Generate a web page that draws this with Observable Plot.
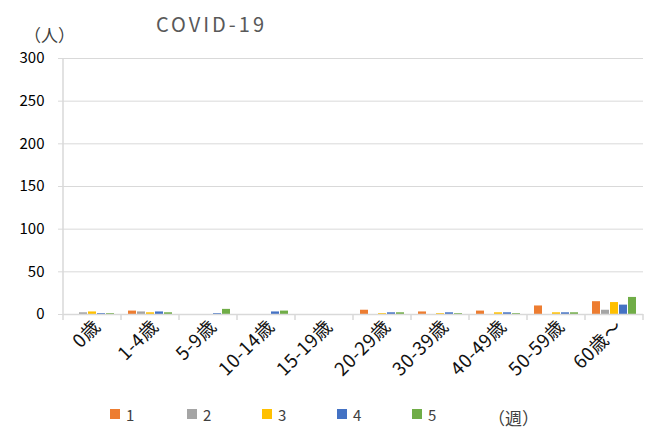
<!DOCTYPE html>
<html>
<head>
<meta charset="utf-8">
<script src="https://cdn.jsdelivr.net/npm/d3@7"></script>
<script src="https://cdn.jsdelivr.net/npm/@observablehq/plot@0.6"></script>
<style>
  html, body { margin: 0; padding: 0; background: #fff; }
  body { font-family: "Noto Sans CJK JP", "Noto Sans", sans-serif; }
  #wrap { position: relative; width: 646px; height: 432px; overflow: hidden; }
  #title { position: absolute; left: 156px; top: 11px; font-size: 20px; letter-spacing: 3px; color: #595959; font-family: "Noto Sans CJK JP", "Noto Sans", sans-serif; line-height: 26px; }
  #unit { position: absolute; left: 24px; top: 26px; font-size: 17px; line-height: 18px; color: #404040; }
  #legend { position: absolute; top: 403px; left: 0; width: 646px; height: 24px; font-size: 15px; color: #404040; }
  .li { position: absolute; top: 0; display: flex; align-items: center; height: 22px; }
  .sw { width: 10px; height: 10px; margin-right: 6px; }
  #chart svg { display: block; }
</style>
</head>
<body>
<div id="wrap">
  <div id="chart"></div>
  <div id="title"></div>
  <div id="unit"></div>
  <div id="legend"></div>
</div>
<script>
const titleText = "COVID-19";
const unitText = "（人）";
const weekUnit = "（週）";
const ages = ["0歳","1-4歳","5-9歳","10-14歳","15-19歳","20-29歳","30-39歳","40-49歳","50-59歳","60歳～"];
const weeks = ["1","2","3","4","5"];
const colors = ["#ED7D31","#A5A5A5","#FFC000","#4472C4","#70AD47"];
const week1 = [0, 4, 0, 0, 0, 5, 3, 4, 10, 15];
const week2 = [2, 3, 0, 0, 0, 0, 0, 0, 0, 5];
const week3 = [3, 2, 0, 0, 0, 1, 1, 2, 2, 14];
const week4 = [1, 3, 1, 3, 0, 2, 2, 2, 2, 11];
const week5 = [1, 2, 6, 4, 0, 2, 1, 1, 2, 20];
const yTicks = [0, 50, 100, 150, 200, 250, 300];

const series = [week1, week2, week3, week4, week5];
const data = [];
ages.forEach((age, i) => {
  weeks.forEach((w, j) => data.push({age, week: w, value: series[j][i]}));
});

const W = 646, H = 395;
const plot = Plot.plot({
  width: W,
  height: H,
  marginTop: 58,
  marginBottom: 81,
  marginLeft: 63,
  marginRight: 3,
  style: {fontFamily: '"Noto Sans CJK JP", "Noto Sans", sans-serif', background: "#fff"},
  fx: {domain: ages, padding: 0, label: null, axis: null},
  x: {domain: weeks, paddingInner: 0.08, paddingOuter: 0.6, axis: null},
  y: {domain: [0, 300], label: null},
  color: {domain: weeks, range: colors},
  marks: [
    Plot.gridY(yTicks, {stroke: "#d9d9d9", strokeOpacity: 1}),
    Plot.axisY(yTicks, {tickSize: 5, tickPadding: 14, stroke: "#d9d9d9", fill: "#000", fontSize: 15, label: null}),
    Plot.axisFx({anchor: "bottom", tickRotate: -45, tickSize: 0, tickPadding: 9, fontSize: 18.5, fill: "#111", dx: 5, label: null}),
    Plot.barY(data, {fx: "age", x: "week", y: "value", fill: "week"}),
    Plot.ruleY([0], {stroke: "#d9d9d9", strokeWidth: 1.5})
  ]
});
document.getElementById("chart").appendChild(plot);
d3.select(plot).selectAll("[aria-label='fx-axis tick label'] text").style("letter-spacing", "0.6px");

// y-axis line and category separators
const svg = d3.select(plot);
const fx = plot.scale("fx");
const ys = plot.scale("y");
const y0 = ys.apply(0), yTop = ys.apply(300);
const g = svg.append("g").attr("stroke", "#d9d9d9").attr("stroke-width", 1.5);
const left0 = fx.apply(ages[0]);
g.append("line").attr("x1", left0).attr("x2", left0).attr("y1", yTop).attr("y2", y0 + 6);
ages.forEach(a => {
  const r = fx.apply(a) + fx.bandwidth;
  g.append("line").attr("x1", r).attr("x2", r).attr("y1", y0).attr("y2", y0 + 6);
});

document.getElementById("title").textContent = titleText;
document.getElementById("unit").textContent = unitText;
const legend = document.getElementById("legend");
const lefts = [110, 187, 262, 337, 412];
weeks.forEach((w, i) => {
  const d = document.createElement("div");
  d.className = "li";
  d.style.left = lefts[i] + "px";
  d.innerHTML = `<span class="sw" style="background:${colors[i]}"></span><span>${w}</span>`;
  legend.appendChild(d);
});
const u = document.createElement("div");
u.className = "li";
u.style.left = "488px";
u.style.top = "3px";
u.style.fontSize = "17px";
u.textContent = weekUnit;
legend.appendChild(u);
</script>
</body>
</html>
